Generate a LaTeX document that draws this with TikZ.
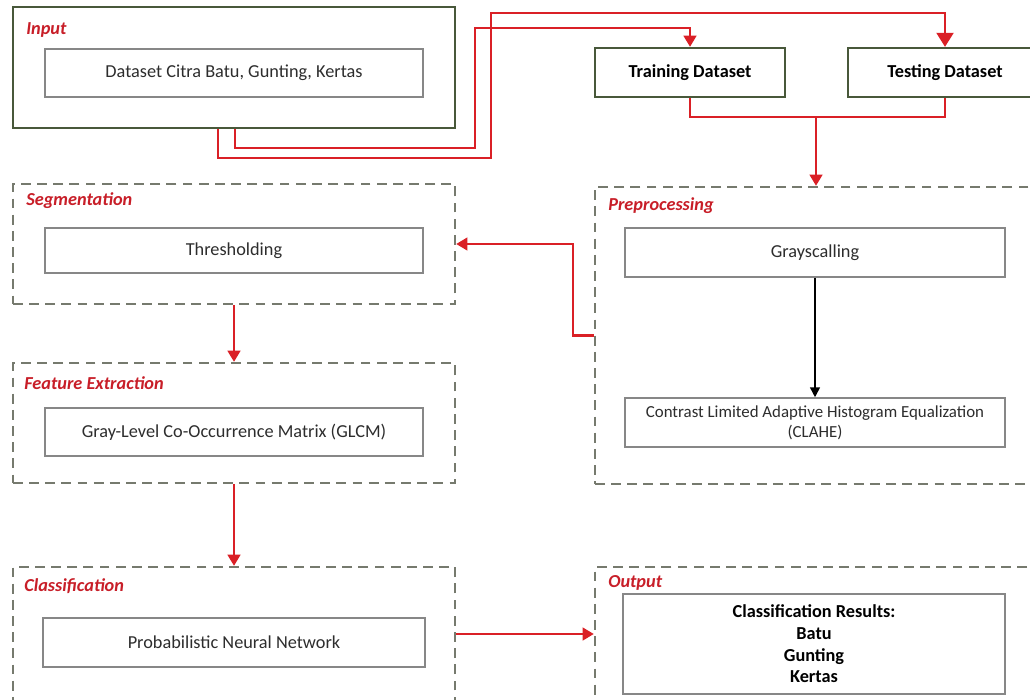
\documentclass[tikz,border=0pt]{standalone}
\usepackage{fontspec}
\setmainfont{Carlito}
\usepackage{tikz}
\usetikzlibrary{arrows.meta, positioning}

\definecolor{framegreen}{RGB}{72,88,58}
\definecolor{dashgray}{RGB}{118,122,110}
\definecolor{boxgray}{RGB}{135,135,135}
\definecolor{flowred}{RGB}{218,32,38}
\definecolor{labelred}{RGB}{200,30,40}
\definecolor{txtgray}{RGB}{45,45,45}

\begin{document}
\begin{tikzpicture}[x=0.025cm, y=-0.025cm,
  inframe/.style={draw=framegreen, line width=2pt, inner sep=0pt},
  stage/.style={draw=dashgray, line width=1.6pt, dash pattern=on 7pt off 4.5pt, inner sep=0pt},
  inbox/.style={draw=boxgray, line width=1.1pt, fill=white, minimum width=9.45cm, minimum height=1.2cm, align=center, text=txtgray, font=\fontsize{13}{15.5}\selectfont},
  dsbox/.style={draw=framegreen, line width=1.6pt, minimum height=1.225cm, font=\fontsize{13}{15.5}\selectfont\bfseries},
  stagelbl/.style={anchor=west, inner sep=0pt, text=labelred, font=\fontsize{13}{15}\selectfont\bfseries\itshape},
  flow/.style={draw=flowred, line width=1.8pt, -{Triangle[width=9pt,length=8pt]}},
]
\useasboundingbox (0,0) rectangle (1030,699);
\clip (0,0) rectangle (1030,699);
\fill[white] (0,0) rectangle (1030,699);

% stage frames
\node[inframe, minimum width=11.05cm, minimum height=3.025cm] (inp) at (234,67.5) {};
\node[stage, minimum width=11.05cm, minimum height=3cm] (seg) at (234,244) {};
\node[stage, minimum width=11.05cm, minimum height=3cm] (feat) at (234,423) {};
\node[stage, minimum width=11.05cm, minimum height=3.35cm] (cls) at (234,634) {};
\node[stage, minimum width=11cm, minimum height=7.425cm] (pre) at (815,335.5) {};
\node[stage, minimum width=11cm, minimum height=3.35cm] (out) at (815,634) {};

% stage labels
\node[stagelbl] (inpl) at (26,30) {Input};
\node[stagelbl] (segl) at (26,201) {Segmentation};
\node[stagelbl] (featl) at (24,383) {Feature Extraction};
\node[stagelbl] (clsl) at (24,586) {Classification};
\node[stagelbl] (prel) at (608,206) {Preprocessing};
\node[stagelbl] (outl) at (608,583) {Output};

% boxes
\node[inbox] (data) at (234,73) {Dataset Citra Batu, Gunting, Kertas};
\node[dsbox, minimum width=4.75cm] (train) at (690,72.5) {Training Dataset};
\node[dsbox, minimum width=4.85cm] (test) at (945,72.5) {Testing Dataset};
\node[inbox, minimum height=1.125cm] (thr) at (234,250.5) {Thresholding};
\node[inbox] (glcm) at (234,432) {Gray-Level Co-Occurrence Matrix (GLCM)};
\node[inbox, minimum width=9.55cm, minimum height=1.225cm] (pnn) at (234,642.5) {Probabilistic Neural Network};
\node[inbox, minimum width=9.5cm, minimum height=1.225cm] (gray) at (815,252.5) {Grayscalling};
\node[inbox, minimum width=9.5cm, minimum height=1.225cm, font=\fontsize{12}{14.2}\selectfont] (clahe) at (815,422.5) {Contrast Limited Adaptive Histogram Equalization\\(CLAHE)};
\node[inbox, minimum width=9.55cm, minimum height=2.5cm, text=black, font=\fontsize{13}{15.4}\selectfont\bfseries] (res) at (814,644) {Classification Results:\\Batu\\Gunting\\Kertas};

% connectors
\coordinate (join) at (816,117);
\draw[flow, -{Triangle[width=12pt,length=10pt]}] ([xshift=-0.4cm]inp.south) |- (491,158) |- ([yshift=0.85cm]test.north) -- (test.north);
\draw[flow] ([xshift=0.025cm]inp.south) |- (475,148) |- ([yshift=0.475cm]train.north) -- (train.north);
\draw[flow, -] (train.south) |- (join) -| (test.south);
\draw[flow] (join) -- (join |- pre.north);
\draw[flow] (pre.west) -- ++(-21,0) |- (seg.east);
\draw[flow] (seg.south) -- (feat.north);
\draw[flow] (feat.south) -- (cls.north);
\draw[flow] (cls.east) -- (out.west);
\draw[line width=1.1pt, -{Triangle[width=7pt,length=7pt]}] (gray) -- (clahe);
\end{tikzpicture}
\end{document}
